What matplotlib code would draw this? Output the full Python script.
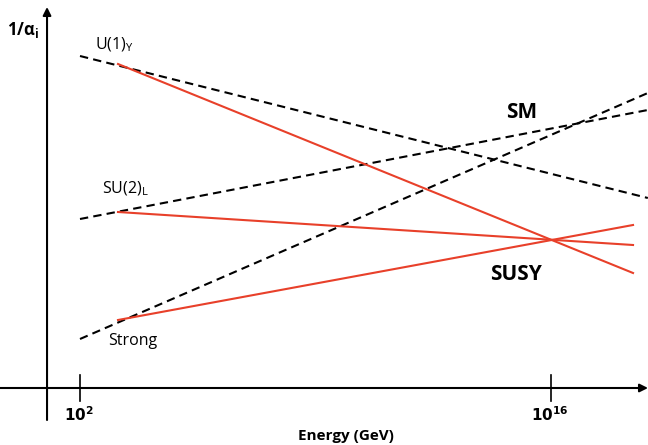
import matplotlib
matplotlib.use('Agg')
import matplotlib.pyplot as plt

plt.rcParams['font.family'] = ['Open Sans', 'DejaVu Sans']

# log10(E / GeV) and 1/alpha (arbitrary units)
sm_x = [2.0, 18.88]
sm_u1 = [66.4, 38.0]
sm_su2 = [33.8, 55.6]
sm_strong = [9.8, 59.0]

susy_x = [3.13, 18.44]
susy_u1 = [64.8, 23.0]
susy_su2 = [35.2, 28.6]
susy_strong = [13.6, 32.6]

tick_pos = [2, 16]
tick_labels = ['$\\mathbf{10^{2}}$', '$\\mathbf{10^{16}}$']

RED = '#e8402a'

fig = plt.figure(figsize=(6.48, 4.45), dpi=100)
ax = fig.add_axes([0, 0, 1, 1])
ax.set_xlim(-0.378, 18.885)
ax.set_ylim(-11.4, 77.6)
ax.axis('off')

# axes drawn by hand
ax.annotate('', xy=(18.885, 0), xytext=(-0.8, 0),
            arrowprops=dict(arrowstyle='-|>', lw=1.5, color='black',
                            mutation_scale=12, shrinkA=0, shrinkB=0))
ax.annotate('', xy=(1.02, 76.2), xytext=(1.02, -6.4),
            arrowprops=dict(arrowstyle='-|>', lw=1.5, color='black',
                            mutation_scale=12, shrinkA=0, shrinkB=0))
for t in tick_pos:
    ax.plot([t, t], [-2.6, 2.6], color='black', lw=1.2)

dash = (0, (4, 2.5))
for ys in (sm_u1, sm_su2, sm_strong):
    ax.plot(sm_x, ys, color='black', lw=1.5, ls=dash)
for ys in (susy_u1, susy_su2, susy_strong):
    ax.plot(susy_x, ys, color=RED, lw=1.5)

for t, lab in zip(tick_pos, tick_labels):
    ax.text(t - 0.02, -5.6, lab, fontsize=11, ha='center', va='center')
ax.text(9.91, -9.6, 'Energy (GeV)', fontsize=11, fontweight='bold',
        ha='center', va='center')
ax.text(0.30, 71.6, '1/α$_\\mathregular{i}$', fontsize=12, fontweight='bold',
        ha='center', va='center')

ax.text(2.45, 68.6, 'U(1)$_\\mathregular{Y}$', fontsize=11.5, ha='left', va='center')
ax.text(2.66, 39.8, 'SU(2)$_\\mathregular{L}$', fontsize=11.5, ha='left', va='center')
ax.text(2.85, 9.4, 'Strong', fontsize=11.5, ha='left', va='center')
ax.text(15.14, 55.2, 'SM', fontsize=15, fontweight='bold', ha='center', va='center')
ax.text(14.96, 22.6, 'SUSY', fontsize=15, fontweight='bold', ha='center', va='center')

fig.savefig('out.png', dpi=100)
